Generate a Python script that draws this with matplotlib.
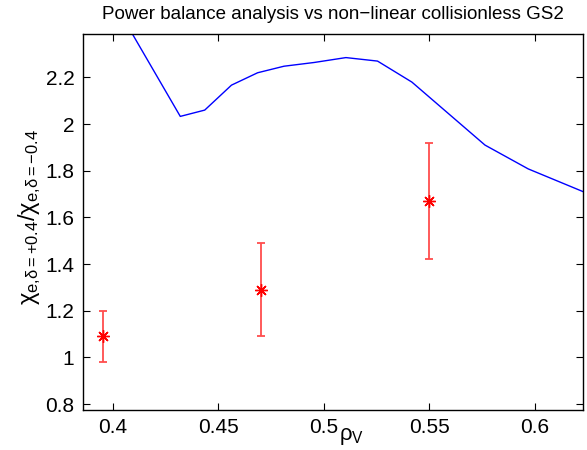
import matplotlib
matplotlib.use("Agg")
import matplotlib.pyplot as plt

plt.rcParams['font.family'] = ['Liberation Sans', 'DejaVu Sans']
plt.rcParams['mathtext.fontset'] = 'custom'
plt.rcParams['mathtext.rm'] = 'Liberation Sans'
plt.rcParams['mathtext.it'] = 'Liberation Sans'
plt.rcParams['mathtext.bf'] = 'Liberation Sans:bold'

# -------------------------
# DATA
# -------------------------
# non-linear collisionless GS2 ratio (blue line)
rho_gs2 = [0.407, 0.4319, 0.4435, 0.4562, 0.4686, 0.4811, 0.4954, 0.5105,
           0.5255, 0.5418, 0.5765, 0.5970, 0.6240]
chi_gs2 = [2.42, 2.033, 2.060, 2.167, 2.220, 2.248, 2.264, 2.285,
           2.270, 2.180, 1.910, 1.808, 1.707]

# power balance analysis (red points with error bars)
rho_pb = [0.395, 0.47, 0.55]
chi_pb = [1.09, 1.29, 1.67]
err_pb = [0.11, 0.20, 0.25]

xticks = [0.4, 0.45, 0.5, 0.55, 0.6]
yticks = [0.8, 1.0, 1.2, 1.4, 1.6, 1.8, 2.0, 2.2]

# -------------------------
# PLOT
# -------------------------
fig = plt.figure(figsize=(5.87, 4.5), dpi=100)
ax = fig.add_axes([0.1409, 0.09, 0.8523, 0.8344])

ax.plot(rho_gs2, chi_gs2, color='#0000ff', lw=1.0)
ax.errorbar(rho_pb, chi_pb, yerr=err_pb, fmt='none', ecolor='#ff4d4d',
            elinewidth=1.3, capsize=3, capthick=1.3)
ax.plot(rho_pb, chi_pb, ls='none', marker=(8, 2, 0), ms=9, mew=1.0,
        color='#ff0000')

ax.set_xlim(0.3856, 0.623)
ax.set_ylim(0.777, 2.386)
ax.set_xticks(xticks)
ax.set_xticklabels(['%g' % t for t in xticks])
ax.set_yticks(yticks)
ax.set_yticklabels(['%g' % t for t in yticks])
ax.tick_params(direction='in', top=True, right=True, length=5, width=0.8,
               labelsize=15, pad=6)
for s in ax.spines.values():
    s.set_linewidth(1.0)

ax.set_title('Power balance analysis vs non\u2212linear collisionless GS2',
             fontsize=13.5, pad=11)
ax.set_xlabel(r'$\rho_V$', fontsize=16)
ax.xaxis.set_label_coords(0.537, -0.045)
ax.set_ylabel(r'$\chi_{e,\!\delta=+0.4}/\chi_{e,\!\delta=-0.4}$', fontsize=17)
ax.yaxis.set_label_coords(-0.08, 0.513)

fig.savefig('out.png', dpi=100)
